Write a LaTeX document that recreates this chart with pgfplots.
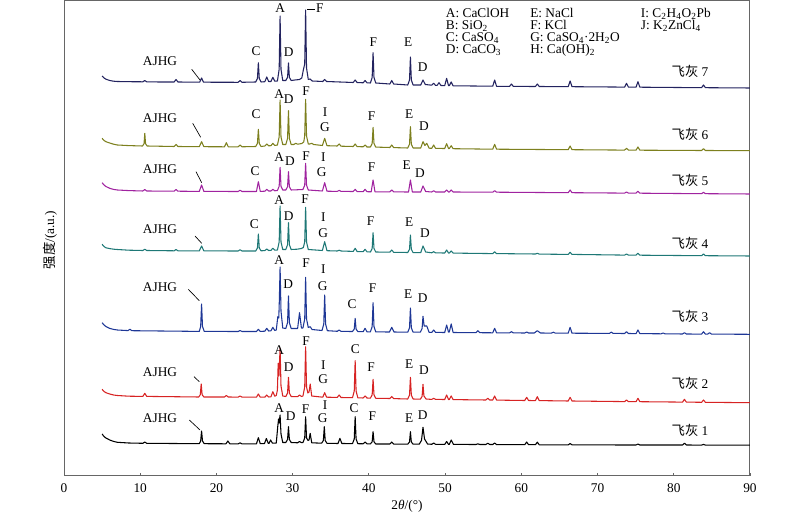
\documentclass[border=0pt]{standalone}
\usepackage{fontspec}
\setmainfont{Liberation Serif}
\newfontfamily\cjk{Noto Sans CJK SC}
\usepackage{pgfplots}
\pgfplotsset{compat=1.18}
\definecolor{cS}{RGB}{35,35,95}
\definecolor{cL}{RGB}{125,128,30}
\definecolor{cF}{RGB}{160,35,160}
\definecolor{cV}{RGB}{30,120,118}
\definecolor{cT}{RGB}{30,55,150}
\definecolor{cE}{RGB}{215,35,35}
\newcommand\sub[1]{\smash{\textsubscript{#1}}}
\begin{document}
\fontsize{10}{12}\selectfont
\begin{tikzpicture}
\path[use as bounding box] (0,0) rectangle (600pt,385.5pt);
\begin{axis}[
  at={(48pt,28.5pt)}, anchor=south west,
  width=514.5pt, height=356.25pt, scale only axis,
  xmin=0, xmax=90, ymin=0, ymax=475,
  xtick={0,10,...,90}, ytick=\empty,
  tick align=inside, xtick pos=left,
  major tick length=2.5pt,
  axis line style={black!60, line width=0.75pt},
  every tick/.style={black!60, line width=0.6pt},
  /pgf/number format/assume math mode=true,
  tick label style={font=\fontsize{10}{12}\selectfont},
  x tick label style={anchor=center, yshift=-9.2pt},
  xlabel={2\textit{θ}/(°)},
  xlabel style={at={(axis description cs:0.5,-0.063)}, anchor=center, font=\fontsize{10}{12}\selectfont},
  ylabel={{\cjk 强度}/(a.u.)},
  ylabel style={at={(axis description cs:-0.0204,0.497)}, anchor=center, rotate=0, font=\fontsize{10}{12}\selectfont},
  every axis plot/.append style={line width=0.8pt, line join=round, mark=none},
]
% 飞灰 1
\addplot[black] coordinates {
(5,42) (5.25,39.5) (5.5,38) (6,36) (6.5,34.6) (7,33.7) (8.5,33)
(10.35,32.7) (10.6,34) (10.85,32.7)
(17.75,32.3) (17.93,35) (18.05,45) (18.17,35) (18.4,32.3)
(21.25,32.2) (21.5,35) (21.75,32.2)
(22.85,32.1) (23.1,33.2) (23.35,32.1)
(25.25,32.2) (25.5,38.3) (25.75,32.3)
(26.3,32.4) (26.55,37.5) (26.8,32.6) (26.9,32.6) (27.1,36) (27.35,32.8)
(27.85,33) (28.05,50) (28.15,57) (28.22,53) (28.35,61) (28.47,42) (28.7,33.5)
(29.1,33.5) (29.33,36.5) (29.45,49.3) (29.57,36.5) (29.8,33.5)
(30.65,33.2) (30.9,34.5) (31.15,33.4)
(31.35,33.5) (31.58,38) (31.7,59.3) (31.82,38) (32.02,35.5) (32.15,36) (32.3,42.7) (32.5,33.2)
(33.8,32.8) (34.03,35.5) (34.15,49.3) (34.27,35.5) (34.5,32.7)
(35.95,32.5) (36.2,37.7) (36.45,32.5)
(37.85,32.4) (38.08,37) (38.2,59.3) (38.32,37) (38.55,32.3)
(39.25,32.2) (39.5,34) (39.75,32.2)
(40.2,32.1) (40.43,34.2) (40.55,44.3) (40.67,34.2) (40.9,32)
(42.75,32) (43.0,34) (43.25,31.9)
(45.1,31.8) (45.33,34) (45.45,44.3) (45.57,34) (45.8,31.8)
(46.6,31.8) (46.9,35.5) (47.1,48.7) (47.3,37) (47.7,32)
(48.25,31.7) (48.5,33) (48.75,31.7)
(49.95,31.6) (50.2,34.5) (50.45,31.6) (50.55,31.6) (50.8,36) (51.1,31.6)
(54.05,31.5) (54.3,32.2) (54.55,31.5) (55.35,31.5) (55.6,32.8) (55.85,31.5) (56.25,31.5) (56.5,33) (56.75,31.4)
(60.45,31.3) (60.7,34) (60.95,31.3) (61.85,31.3) (62.1,33.8) (62.35,31.2)
(66.15,31.1) (66.4,32.5) (66.65,31.1)
(75.05,31) (75.3,32) (75.55,31)
(81.15,31) (81.4,32.8) (81.65,31)
(83.65,30.9) (83.9,31.6) (84.15,30.9) (90,30.8)
};
% 飞灰 2
\addplot[cE] coordinates {
(5,86.7) (5.25,84.5) (5.5,83.3) (6,82) (6.5,81) (7,80.5) (8.5,79.8)
(10.35,79.6) (10.6,82.7) (10.85,79.6)
(17.68,79) (17.88,81.3) (18.0,92) (18.12,81.3) (18.35,79)
(21.05,79) (21.3,80.5) (21.55,79)
(22.85,78.9) (23.1,80) (23.35,78.9)
(25.25,78.8) (25.5,82) (25.75,78.8)
(26.35,78.8) (26.6,81) (26.85,79) (27.15,79.2) (27.4,84.3) (27.65,79.8)
(27.85,80.5) (28.0,86) (28.1,112.7) (28.2,100) (28.35,127.7) (28.47,90) (28.7,80)
(29.1,79.5) (29.33,83) (29.45,98.7) (29.57,83) (29.8,79.5)
(30.65,79.3) (30.9,81) (31.15,79.5)
(31.35,80) (31.58,88.9) (31.7,129.3) (31.82,88.9) (32.0,83) (32.15,84) (32.3,92) (32.5,80)
(33.95,78.8) (34.2,83.3) (34.45,78.8)
(35.85,78.6) (36.1,81) (36.35,78.5)
(37.85,78.3) (38.08,85) (38.2,115.3) (38.32,85) (38.55,78.2)
(39.25,78) (39.5,80) (39.75,78)
(40.2,77.8) (40.43,81.2) (40.55,96.7) (40.67,81.2) (40.9,77.7)
(42.75,77.5) (43.0,79.5) (43.25,77.4)
(45.1,77) (45.33,80.9) (45.45,98.7) (45.57,80.9) (45.8,77)
(46.75,76.8) (46.98,79.5) (47.1,91.7) (47.22,80) (47.5,77)
(48.25,76.6) (48.5,77.7) (48.75,76.6)
(49.95,76.5) (50.2,81) (50.45,76.5) (50.55,76.5) (50.8,80) (51.05,76.4)
(55.35,76) (55.6,77.7) (55.85,76) (56.25,76) (56.5,80) (56.75,75.9)
(60.45,75.5) (60.7,78.7) (60.95,75.5)
(61.85,75.4) (62.1,79.3) (62.35,75.4)
(66.15,75) (66.4,78.7) (66.65,75)
(73.55,74.4) (73.8,76) (74.05,74.4) (75.05,74.3) (75.3,77.7) (75.55,74.3)
(81.15,73.9) (81.4,76.7) (81.65,73.9)
(83.65,73.7) (83.9,76) (84.15,73.7) (90,73.3)
};
% 飞灰 3
\addplot[cT] coordinates {
(5,153.3) (5.25,151) (5.5,149.5) (6,147.6) (6.5,146.6) (7,146) (8.4,145.4) (8.65,146.8) (8.9,145.3)
(17.75,144.6) (17.93,149.5) (18.05,172) (18.17,149.5) (18.4,144.6)
(22.85,144.5) (23.1,145.5) (23.35,144.5)
(25.25,144.5) (25.5,146.7) (25.75,144.6)
(26.35,144.8) (26.6,147.7) (26.85,145) (27.15,145.2) (27.4,148.7) (27.65,145.5)
(27.85,146) (28.05,159.3) (28.18,158) (28.25,175) (28.35,209) (28.47,165) (28.7,148)
(29.1,147.5) (29.33,153.4) (29.45,180) (29.57,153.4) (29.8,147.5)
(30.65,147.5) (30.9,163.3) (31.15,148)
(31.35,148) (31.58,157) (31.7,198.7) (31.82,157) (32.05,148.5) (32.3,149.3) (32.55,146.5)
(33.85,145.5) (34.08,151.9) (34.2,181) (34.32,151.9) (34.55,145.3)
(35.85,144.7) (36.1,146) (36.35,144.6)
(37.85,144.5) (38.08,146.9) (38.2,157.7) (38.32,146.9) (38.55,144.4)
(39.25,144.3) (39.5,147.7) (39.75,144.2)
(40.2,144.2) (40.43,149.4) (40.55,173.3) (40.67,149.4) (40.9,144.1)
(42.7,144) (43.0,148.7) (43.3,144)
(45.1,143.8) (45.33,148.2) (45.45,168) (45.57,148.2) (45.8,143.8)
(46.75,143.8) (46.98,147.5) (47.1,159.7) (47.25,150) (47.6,150) (47.9,143.7)
(48.25,143.6) (48.5,146) (48.75,143.6)
(49.95,143.5) (50.2,151) (50.45,143.8) (50.55,144) (50.8,152) (51.05,143.5)
(54.05,143.3) (54.3,145.3) (54.55,143.3)
(56.25,143.2) (56.5,147.7) (56.75,143.2)
(58.45,143.1) (58.7,144.3) (58.95,143.1)
(60.45,143) (60.7,144) (60.95,143)
(61.7,143) (62.1,145.3) (62.5,143)
(63.95,142.9) (64.2,143.8) (64.45,142.9)
(66.15,142.8) (66.4,148.7) (66.65,142.8)
(71.55,142.6) (71.8,143.8) (72.05,142.6)
(73.55,142.5) (73.8,144.3) (74.05,142.5) (75.05,142.4) (75.3,146) (75.55,142.4)
(78.35,142.2) (78.6,143) (78.85,142.2)
(81.15,142) (81.4,143.3) (81.65,142)
(83.65,141.9) (83.9,144.3) (84.15,141.9) (84.45,141.9) (84.7,143.3) (84.95,141.9) (90,141.7)
};
% 飞灰 4
\addplot[cV] coordinates {
(5,231.7) (5.25,229.5) (5.5,228.2) (6,227.4) (6.5,226.8) (7,226.5) (8.5,225.8)
(10.35,225.5) (10.6,226.8) (10.85,225.5)
(14.45,225.2) (14.7,226.5) (14.95,225.2)
(17.75,225.1) (18.05,230) (18.35,225.1)
(22.85,225) (23.1,226.3) (23.35,225)
(25.15,225) (25.38,228) (25.5,242) (25.62,228) (25.85,225.2)
(26.35,225.4) (26.6,227) (26.85,225.5) (27.15,225.6) (27.4,227.7) (27.65,225.8)
(28.0,226) (28.23,234) (28.35,270) (28.47,234) (28.7,226.5)
(29.1,226.5) (29.33,231.3) (29.45,253.3) (29.57,231.3) (29.8,226.5)
(30.6,226.8) (31.15,227.5) (31.4,228.5) (31.58,234) (31.7,268.7) (31.82,234) (32.05,226.5)
(33.9,225.5) (34.2,234.3) (34.5,225.3)
(35.85,225) (36.1,225.8) (36.35,225)
(37.95,224.6) (38.2,227.7) (38.45,224.5) (39.25,224.3) (39.5,226.7) (39.75,224.2)
(40.2,224) (40.43,227.5) (40.55,243.3) (40.67,227.5) (40.9,224)
(42.75,223.8) (43.0,226) (43.25,223.7)
(45.1,223.5) (45.33,226.7) (45.45,241) (45.57,226.7) (45.8,223.4)
(46.8,223.3) (47.1,230) (47.45,224)
(48.25,223.2) (48.5,224.3) (48.75,223.1)
(49.95,223) (50.2,226) (50.45,223) (50.55,223) (50.8,225) (51.05,222.9)
(56.25,222.4) (56.5,224.3) (56.75,222.4)
(61.85,222) (62.1,222.7) (62.35,221.9)
(66.15,221.6) (66.4,223.7) (66.65,221.6)
(73.55,220.9) (73.8,222) (74.05,220.9) (75.05,220.8) (75.3,222.7) (75.55,220.8)
(83.65,220.3) (83.9,222) (84.15,220.3) (90,220)
};
% 飞灰 5
\addplot[cF] coordinates {
(5,293.3) (5.25,291) (5.5,289.5) (6,287.7) (6.5,286.6) (7,286) (8.5,285.4)
(10.35,285) (10.6,286.5) (10.85,285)
(14.45,284.8) (14.7,286.5) (14.95,284.8)
(17.75,284.6) (18.05,291) (18.35,284.6)
(22.85,284.5) (23.1,285.8) (23.35,284.5)
(25.25,284.5) (25.5,294.3) (25.75,284.6)
(26.35,284.8) (26.6,286.7) (26.85,285) (27.15,285) (27.4,286.7) (27.65,285.2)
(28.0,285.5) (28.23,289.7) (28.35,308.7) (28.47,289.7) (28.7,286)
(29.1,286) (29.33,289.3) (29.45,304.3) (29.57,289.3) (29.8,286)
(30.5,286.2) (31.35,286.5) (31.58,290.8) (31.7,312.7) (31.82,290.8) (32.05,286)
(33.9,285) (34.2,293.3) (34.5,284.8)
(35.85,284.6) (36.1,285.6) (36.35,284.6)
(37.95,284.5) (38.2,286.7) (38.45,284.4) (39.25,284.3) (39.5,286.7) (39.75,284.3)
(40.3,284.2) (40.55,296) (40.8,284.2)
(42.75,284.1) (43.0,286) (43.25,284.1)
(45.2,284) (45.45,296) (45.7,284)
(46.8,284) (47.1,290) (47.45,284.5)
(48.25,284) (48.5,285.3) (48.75,284)
(49.95,284) (50.2,286) (50.45,284) (50.55,284) (50.8,286) (51.05,284)
(56.25,283.8) (56.5,285.3) (56.75,283.8)
(66.15,283.3) (66.4,286) (66.65,283.3)
(73.55,282.9) (73.8,284) (74.05,282.9) (75.05,282.8) (75.3,284.7) (75.55,282.8)
(83.65,282.3) (83.9,283.7) (84.15,282.3) (90,282)
};
% 飞灰 6
\addplot[cL] coordinates {
(5,337.7) (5.25,335.5) (5.5,334.3) (6,333) (6.5,331.8) (7,331) (8.5,330.4)
(10.3,330) (10.5,332.3) (10.6,342.7) (10.7,332.3) (10.9,330)
(14.45,329.5) (14.7,331.5) (14.95,329.5)
(17.75,329.3) (18.05,334.3) (18.35,329.3)
(21.05,329.2) (21.3,333.3) (21.55,329.2)
(22.85,329.2) (23.1,331) (23.35,329.2)
(25.15,329.5) (25.38,332.6) (25.5,346.7) (25.62,332.6) (25.85,329.5)
(26.35,330) (26.6,332) (26.85,330.2) (27.15,330.3) (27.4,332.7) (27.65,330.5)
(28.0,331) (28.23,339) (28.35,376) (28.47,339) (28.7,331.5)
(29.1,331.5) (29.33,337.6) (29.45,365.3) (29.57,337.6) (29.8,331.5)
(30.15,331.5) (30.4,332.7) (30.65,331.8)
(31.2,332.5) (31.45,334) (31.58,340) (31.7,376.7) (31.82,340) (32.05,332)
(32.25,332) (32.5,332.7) (32.75,331.5)
(33.9,330.5) (34.2,337.7) (34.5,330.3)
(35.85,330) (36.1,332) (36.35,329.8)
(37.95,329.5) (38.2,332) (38.45,329.4) (39.25,329.2) (39.5,331) (39.75,329)
(40.2,329) (40.43,332.5) (40.55,348.7) (40.67,332.5) (40.9,328.9)
(42.75,328.5) (43.0,331) (43.25,328.4)
(45.1,328) (45.33,331.8) (45.45,349.3) (45.57,331.8) (45.8,328)
(46.8,328) (47.1,334.3) (47.35,330.5) (47.6,332.7) (47.9,327.8)
(48.25,327.7) (48.5,331) (48.75,327.6)
(49.95,327.5) (50.2,332.3) (50.45,327.5) (50.55,327.5) (50.8,330.3) (51.05,327.3)
(56.25,326.8) (56.5,331.7) (56.75,326.8)
(66.15,326.3) (66.4,330) (66.65,326.3)
(73.55,325.9) (73.8,327.7) (74.05,325.9) (75.05,325.8) (75.3,329) (75.55,325.8)
(83.65,325.5) (83.9,327.3) (84.15,325.5) (90,325.3)
};
% 飞灰 7
\addplot[cS] coordinates {
(5,400) (5.25,398) (5.5,396.8) (6,395.5) (6.5,394.8) (7,394.5) (8.5,394.3)
(10.35,394.2) (10.6,395.5) (10.85,394.2)
(12.5,394) (14.45,394) (14.7,396.5) (14.95,394)
(17.8,393.8) (18.05,398) (18.3,393.8)
(22.85,393.7) (23.1,395.5) (23.35,393.7)
(25.15,394) (25.38,397.5) (25.5,413.3) (25.62,397.5) (25.85,394)
(26.35,394.3) (26.6,399) (26.85,394.5)
(27.15,394.5) (27.4,398.7) (27.65,394.8)
(28.0,395) (28.23,406.7) (28.35,460) (28.47,406.7) (28.7,395.5)
(29.1,395.5) (29.33,398.7) (29.45,413) (29.57,398.7) (29.8,395.5)
(30.3,396) (30.9,396.5) (31.2,398) (31.4,406) (31.58,412) (31.7,466) (31.82,408) (32.05,396.5)
(32.3,397) (32.55,395)
(33.95,394.5) (34.2,396.5) (34.45,394.5)
(37.95,393.5) (38.2,396) (38.45,393.5)
(39.25,393.2) (39.5,395.5) (39.75,393.2)
(40.2,393) (40.43,398.5) (40.55,423.3) (40.67,398.5) (40.9,393)
(42.75,392) (43.0,395.5) (43.25,392)
(45.1,391) (45.33,396) (45.45,419) (45.57,396) (45.8,391)
(46.8,391) (47.1,396) (47.4,391.5)
(48.25,390.8) (48.5,392.7) (48.75,390.6) (48.95,390.6) (49.2,393.3) (49.45,390.5)
(49.95,390.4) (50.2,397.7) (50.45,390.3) (50.55,390.3) (50.8,394) (51.05,390.2)
(56.25,389.8) (56.5,396) (56.75,389.7)
(58.45,389.6) (58.7,392) (58.95,389.6)
(61.85,389.5) (62.1,392) (62.35,389.5)
(66.15,389.3) (66.4,395) (66.65,389.3)
(73.55,388.9) (73.8,392.7) (74.05,388.9) (75.05,388.8) (75.3,394.3) (75.55,388.8)
(83.65,388.3) (83.9,391) (84.15,388.3) (90,388)
};
\end{axis}
% annotations in image pixel coordinates (origin at the top left)
\begin{scope}[x=0.75pt, y=-0.75pt, yshift=385.5pt, every node/.style={inner sep=0pt, font=\fontsize{10}{12}\selectfont}]
% legend
\node[anchor=base west] at (445.7,17.3) {A: CaClOH};
\node[anchor=base west] at (445.7,29.5) {B: SiO\sub{2}};
\node[anchor=base west] at (445.7,41.7) {C: CaSO\sub{4}};
\node[anchor=base west] at (445.7,53.9) {D: CaCO\sub{3}};
\node[anchor=base west] at (530,17.3) {E: NaCl};
\node[anchor=base west] at (530,29.5) {F: KCl};
\node[anchor=base west] at (530,41.7) {G: CaSO\sub{4}·2H\sub{2}O};
\node[anchor=base west] at (530,53.9) {H: Ca(OH)\sub{2}};
\node[anchor=base west] at (640.7,17.3) {I: C\sub{2}H\sub{4}O\sub{2}Pb};
\node[anchor=base west] at (640.7,29.5) {J: K\sub{2}ZnCl\sub{4}};
% sample names
\node at (690,71.7) {{\cjk 飞灰} 7};
\node at (690,134.3) {{\cjk 飞灰} 6};
\node at (690,180.7) {{\cjk 飞灰} 5};
\node at (690,243.3) {{\cjk 飞灰} 4};
\node at (690,316.7) {{\cjk 飞灰} 3};
\node at (690,383.3) {{\cjk 飞灰} 2};
\node at (690,430) {{\cjk 飞灰} 1};
% trace 7
\node at (160,61) {AJHG}; \draw[line width=0.5pt] (191.7,69.3) -- (200,80);
\node at (256,50.7) {C}; \node at (280.3,8.3) {A}; \node at (288.7,52.3) {D};
\draw[line width=0.5pt] (307.3,9.3) -- (315,9.3); \node at (319.8,8) {F};
\node at (373.3,41.7) {F}; \node at (408.3,41.7) {E}; \node at (422.7,66.7) {D};
% trace 6
\node at (160,118.3) {AJHG}; \draw[line width=0.5pt] (192.7,123.3) -- (200.7,137.3);
\node at (256,114.3) {C}; \node at (279.3,94) {A}; \node at (288.7,99.3) {D};
\node at (306,90.7) {F}; \node at (325,112.3) {I}; \node at (325,127.3) {G};
\node at (371.7,116) {F}; \node at (409.3,114) {E}; \node at (424,126) {D};
% trace 5
\node at (160,169.3) {AJHG}; \draw[line width=0.5pt] (196,171.7) -- (201.7,182.7);
\node at (255,170.7) {C}; \node at (279.3,156.7) {A}; \node at (290,160.7) {D};
\node at (306,156) {F}; \node at (323.3,157.3) {I}; \node at (321.7,171.7) {G};
\node at (371.7,167.3) {F}; \node at (406.7,165) {E}; \node at (420,173.3) {D};
% trace 4
\node at (160,229.3) {AJHG}; \draw[line width=0.5pt] (195,236) -- (201.7,243.3);
\node at (254.3,224) {C}; \node at (279.3,200) {A}; \node at (288.7,216) {D};
\node at (305,199.3) {F}; \node at (323.3,216.7) {I}; \node at (323.3,232.7) {G};
\node at (370.7,220.7) {F}; \node at (409.3,221.7) {E}; \node at (425,233.3) {D};
% trace 3
\node at (160,287.3) {AJHG}; \draw[line width=0.5pt] (188.3,289.3) -- (199.3,300.7);
\node at (279.3,260) {A}; \node at (288.3,284.3) {D};
\node at (306,263.3) {F}; \node at (323.3,269) {I}; \node at (322.7,285.7) {G};
\node at (352,304) {C}; \node at (372.7,288.3) {F}; \node at (408.3,294.3) {E}; \node at (422.7,298.3) {D};
% trace 2
\node at (160,371.7) {AJHG}; \draw[line width=0.5pt] (194,376.7) -- (199.3,381.7);
\node at (279.3,350) {A}; \node at (288.7,366.7) {D};
\node at (306,340.7) {F}; \node at (323.3,365) {I}; \node at (323.3,379.3) {G};
\node at (355.3,349.3) {C}; \node at (371,366.7) {F}; \node at (409.3,364) {E}; \node at (424,370) {D};
% trace 1
\node at (160,418.3) {AJHG}; \draw[line width=0.5pt] (189.3,420) -- (200,430);
\node at (279.3,407.7) {A}; \node at (290.7,415.7) {D};
\node at (305.7,409) {F}; \node at (325,405) {I}; \node at (322.7,418.3) {G};
\node at (354,408.3) {C}; \node at (372.3,415.7) {F}; \node at (409.3,418.3) {E}; \node at (422.7,415) {D};
\end{scope}
\end{tikzpicture}
\end{document}
